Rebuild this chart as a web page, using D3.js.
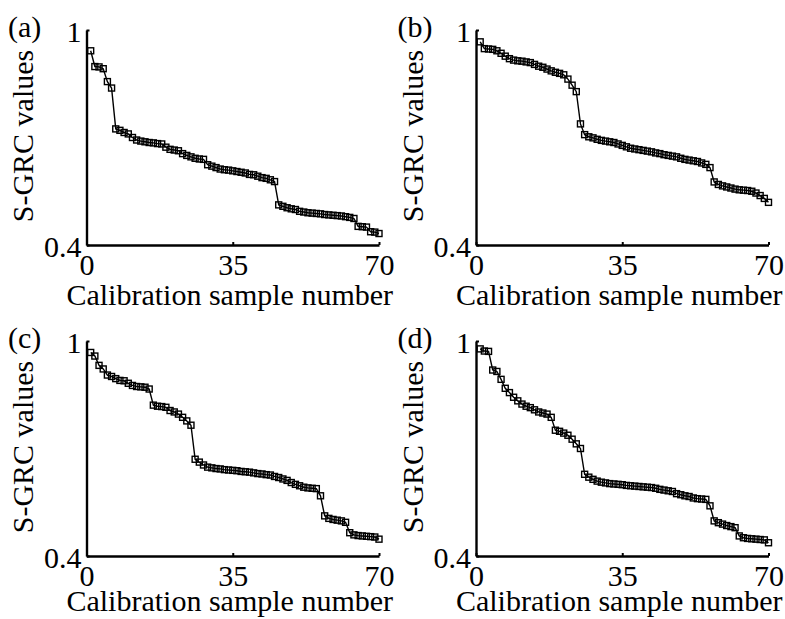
<!DOCTYPE html>
<html>
<head>
<meta charset="utf-8">
<script src="https://cdn.jsdelivr.net/npm/d3@7/dist/d3.min.js"></script>
<style>
  html, body { margin: 0; padding: 0; background: #fff; }
  svg { display: block; }
  text { font-family: "Liberation Serif", "Times New Roman", serif; fill: #000; }
</style>
</head>
<body>
<svg id="chart" width="785" height="619"></svg>
<script>
// ---- data ----
const panelLabels = ["(a)", "(b)", "(c)", "(d)"];
const xTickValues = [0, 35, 70];
const yTickValues = [0.4, 1];
const xAxisTitle = "Calibration sample number";
const yAxisTitle = "S-GRC values";

const seriesA = [0.942,0.898,0.897,0.892,0.856,0.838,0.724,0.720,0.714,0.710,
  0.700,0.693,0.690,0.688,0.686,0.685,0.683,0.682,0.673,0.667,
  0.665,0.663,0.655,0.650,0.646,0.642,0.640,0.639,0.624,0.620,
  0.616,0.612,0.610,0.609,0.607,0.605,0.603,0.601,0.597,0.596,
  0.592,0.588,0.586,0.582,0.577,0.512,0.508,0.504,0.501,0.499,
  0.494,0.492,0.490,0.489,0.488,0.487,0.485,0.484,0.483,0.482,
  0.481,0.479,0.477,0.474,0.452,0.451,0.450,0.437,0.436,0.432];

const seriesB = [0.967,0.948,0.947,0.946,0.942,0.935,0.927,0.920,0.916,0.914,
  0.913,0.911,0.909,0.904,0.899,0.896,0.891,0.886,0.882,0.879,
  0.875,0.863,0.846,0.828,0.738,0.708,0.702,0.699,0.695,0.692,
  0.690,0.688,0.686,0.682,0.678,0.674,0.670,0.668,0.666,0.664,
  0.662,0.660,0.657,0.655,0.652,0.650,0.648,0.646,0.642,0.639,
  0.637,0.635,0.633,0.629,0.625,0.616,0.576,0.569,0.565,0.562,
  0.559,0.556,0.554,0.553,0.552,0.550,0.545,0.538,0.530,0.519];

const seriesC = [0.968,0.958,0.932,0.922,0.905,0.901,0.895,0.890,0.889,0.882,
  0.876,0.873,0.872,0.871,0.866,0.821,0.818,0.817,0.815,0.806,
  0.802,0.796,0.787,0.777,0.765,0.670,0.662,0.654,0.648,0.646,
  0.644,0.643,0.641,0.640,0.639,0.638,0.636,0.635,0.634,0.632,
  0.630,0.629,0.627,0.626,0.622,0.619,0.615,0.611,0.605,0.600,
  0.596,0.592,0.590,0.589,0.588,0.568,0.512,0.505,0.502,0.500,
  0.498,0.494,0.465,0.459,0.457,0.456,0.455,0.454,0.453,0.447];

const seriesD = [0.978,0.972,0.971,0.919,0.915,0.893,0.868,0.856,0.843,0.833,
  0.824,0.818,0.814,0.808,0.802,0.799,0.796,0.787,0.751,0.748,
  0.743,0.737,0.726,0.713,0.700,0.628,0.620,0.614,0.609,0.606,
  0.604,0.602,0.601,0.600,0.599,0.597,0.596,0.595,0.594,0.593,
  0.592,0.591,0.589,0.586,0.584,0.582,0.580,0.574,0.571,0.568,
  0.566,0.562,0.560,0.559,0.558,0.540,0.498,0.493,0.489,0.485,
  0.482,0.479,0.456,0.451,0.449,0.448,0.447,0.446,0.445,0.437];

const allSeries = [seriesA, seriesB, seriesC, seriesD];

// ---- layout ----
const svg = d3.select("#chart");
const offsets = [[0, 0], [389.5, 0], [0, 311], [389.5, 311]];
const xTitleBaseline = [305, 305, 300, 300];
const plotLeft = 86.5, plotRight = 379, plotTop = 30, plotBottom = 245;

const x = d3.scaleLinear().domain([0, 70]).range([plotLeft, plotRight]);
const y = d3.scaleLinear().domain([0.4, 1]).range([plotBottom, plotTop]);

allSeries.forEach((vals, i) => {
  const g = svg.append("g").attr("transform", `translate(${offsets[i][0]},${offsets[i][1]})`);
  const data = vals.map((v, k) => ({ n: k + 1, v }));

  // x axis
  const xa = g.append("g")
    .attr("transform", `translate(0,${plotBottom})`)
    .call(d3.axisBottom(x).tickValues(xTickValues).tickFormat(d3.format("d"))
      .tickSizeInner(-3).tickSizeOuter(0).tickPadding(9));
  xa.select(".domain").attr("stroke", "#000").attr("stroke-width", 2.4);
  xa.selectAll(".tick line").attr("stroke", "#000").attr("stroke-width", 2);
  xa.selectAll(".tick text").style("font-family", "Liberation Serif, serif").style("font-size", "30px").attr("fill", "#000");

  // y axis
  const ya = g.append("g")
    .attr("transform", `translate(${plotLeft},0)`)
    .call(d3.axisLeft(y).tickValues(yTickValues).tickFormat(d => d === 1 ? "1" : d3.format(".1f")(d))
      .tickSizeInner(-3).tickSizeOuter(0).tickPadding(5));
  ya.select(".domain").attr("stroke", "#000").attr("stroke-width", 2.4);
  ya.selectAll(".tick line").attr("stroke", "#000").attr("stroke-width", 2);
  ya.selectAll(".tick text").style("font-family", "Liberation Serif, serif").style("font-size", "30px")
    .attr("fill", "#000").attr("dy", "0.38em");

  // line
  const line = d3.line().x(d => x(d.n)).y(d => y(d.v));
  g.append("path").datum(data)
    .attr("d", line).attr("fill", "none").attr("stroke", "#000").attr("stroke-width", 1.4);

  // square markers
  const s = 6;
  g.selectAll("rect.m").data(data).enter().append("rect")
    .attr("class", "m")
    .attr("x", d => x(d.n) - s / 2).attr("y", d => y(d.v) - s / 2)
    .attr("width", s).attr("height", s)
    .attr("fill", "none").attr("stroke", "#000").attr("stroke-width", 1.4);

  // axis titles
  g.append("text")
    .attr("x", (plotLeft + plotRight) / 2 - 3).attr("y", xTitleBaseline[i])
    .attr("text-anchor", "middle").style("font-size", "30px")
    .text(xAxisTitle);

  g.append("text")
    .attr("transform", `translate(33,136) rotate(-90)`)
    .attr("text-anchor", "middle").style("font-size", "30px")
    .text(yAxisTitle);

  // panel label
  g.append("text")
    .attr("x", 8).attr("y", 37)
    .style("font-size", "30px")
    .text(panelLabels[i]);
});
</script>
</body>
</html>
